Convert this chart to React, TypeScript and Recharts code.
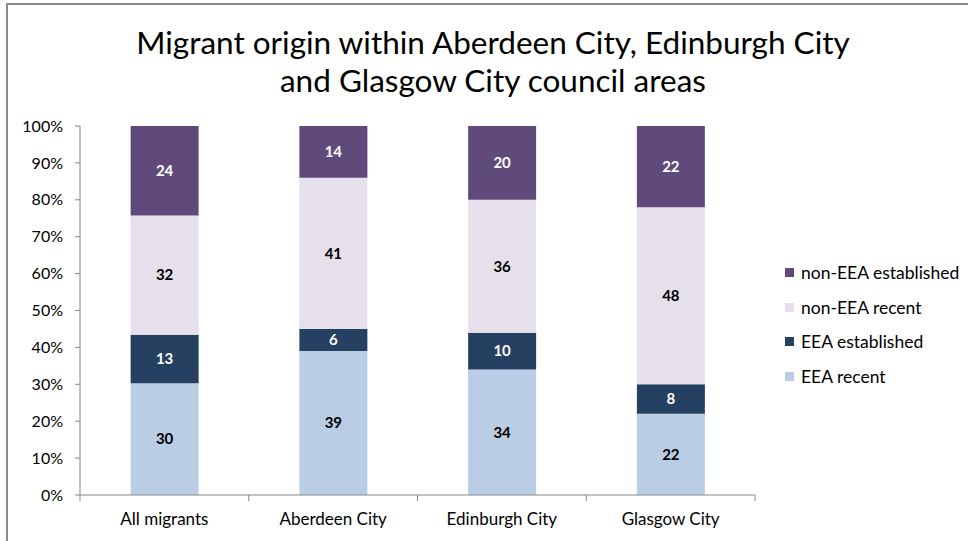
import { BarChart, Bar, XAxis, YAxis, LabelList } from "recharts";

const areas = ["All migrants", "Aberdeen City", "Edinburgh City", "Glasgow City"];
const eeaRecent = [30, 39, 34, 22];
const eeaEstablished = [13, 6, 10, 8];
const nonEeaRecent = [32, 41, 36, 48];
const nonEeaEstablished = [24, 14, 20, 22];
const yTicks = [0, 0.1, 0.2, 0.3, 0.4, 0.5, 0.6, 0.7, 0.8, 0.9, 1];

const series = [
    { key: "eeaRecent", name: "EEA recent", color: "#B9CDE5", text: "#000" },
    { key: "eeaEstablished", name: "EEA established", color: "#254061", text: "#fff" },
    { key: "nonEeaRecent", name: "non-EEA recent", color: "#E6E0EC", text: "#000" },
    { key: "nonEeaEstablished", name: "non-EEA established", color: "#604A7B", text: "#fff" },
];

const data = areas.map((area, i) => ({
    area,
    eeaRecent: eeaRecent[i],
    eeaEstablished: eeaEstablished[i],
    nonEeaRecent: nonEeaRecent[i],
    nonEeaEstablished: nonEeaEstablished[i],
}));

const FONT = "Lato, 'Open Sans', sans-serif";
const W = 968;
const H = 541;
const MARGIN = { top: 126, right: 213, bottom: 16, left: 0 };
const Y_WIDTH = 80;
const BAND = (W - MARGIN.left - MARGIN.right - Y_WIDTH) / areas.length;

// category label plus the separator ticks between categories
function AreaTick(props: any) {
    const { x, y, payload, index } = props;
    const half = BAND / 2;
    return (
        <g>
            <line x1={x - half} y1={y - 8} x2={x - half} y2={y - 2} stroke="#868686" />
            {index === areas.length - 1 && (
                <line x1={x + half} y1={y - 8} x2={x + half} y2={y - 2} stroke="#868686" />
            )}
            <text x={x} y={y + 22} textAnchor="middle" fontSize={17} fill="#000" fontFamily={FONT}>
                {payload.value}
            </text>
        </g>
    );
}

function LegendBox() {
    return (
        <div
            style={{
                position: "absolute",
                left: 785,
                top: 255,
                fontFamily: FONT,
                fontSize: 17.5,
                color: "#000",
            }}
        >
            {[...series].reverse().map((s) => (
                <div key={s.key} style={{ display: "flex", alignItems: "center", height: 34.7, whiteSpace: "nowrap" }}>
                    <span style={{ width: 9, height: 9, background: s.color, marginRight: 7, display: "inline-block" }} />
                    {s.name}
                </div>
            ))}
        </div>
    );
}

export default function App() {
    return (
        <div style={{ position: "fixed", left: 0, top: 0, width: W, height: H, background: "#fff" }}>
            <div
                style={{
                    position: "absolute",
                    left: 6,
                    top: 3,
                    width: W - 6,
                    height: H - 3,
                    borderLeft: "2px solid #8c8c8c",
                    borderTop: "2px solid #8c8c8c",
                }}
            />
            <div
                style={{
                    position: "absolute",
                    left: 0,
                    width: 986,
                    top: 23,
                    textAlign: "center",
                    fontFamily: FONT,
                    fontSize: 31.5,
                    lineHeight: "38px",
                    color: "#000",
                }}
            >
                Migrant origin within Aberdeen City, Edinburgh City
                <br />
                and Glasgow City council areas
            </div>
            <BarChart width={W} height={H} data={data} margin={MARGIN} stackOffset="expand" barCategoryGap="30%" style={{ position: "absolute", left: 0, top: 0 }}>
                <XAxis
                    dataKey="area"
                    tick={<AreaTick />}
                    tickLine={false}
                    axisLine={{ stroke: "#868686" }}
                    height={30}
                    interval={0}
                />
                <YAxis
                    width={Y_WIDTH}
                    domain={[0, 1]}
                    ticks={yTicks}
                    tickFormatter={(v: number) => `${Math.round(v * 100)}%`}
                    tick={{ fontSize: 16, fill: "#000", fontFamily: FONT }}
                    tickLine={{ stroke: "#868686" }}
                    tickSize={5}
                    tickMargin={12}
                    axisLine={{ stroke: "#868686" }}
                />
                {series.map((s) => (
                    <Bar key={s.key} dataKey={s.key} name={s.name} stackId="a" fill={s.color} isAnimationActive={false}>
                        <LabelList
                            dataKey={s.key}
                            position="center"
                            fill={s.text}
                            fontSize={15}
                            fontWeight="bold"
                            fontFamily={FONT}
                        />
                    </Bar>
                ))}
            </BarChart>
            <LegendBox />
        </div>
    );
}
